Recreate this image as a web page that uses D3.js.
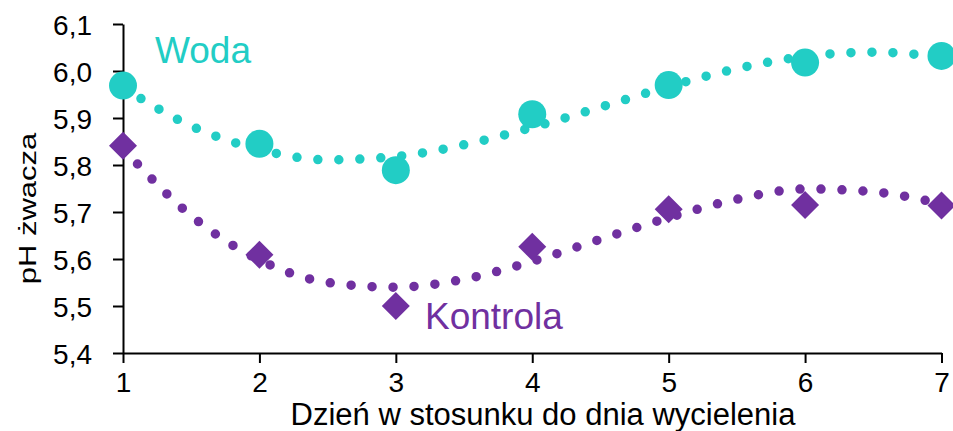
<!DOCTYPE html>
<html>
<head>
<meta charset="utf-8">
<script src="https://cdn.jsdelivr.net/npm/d3@7"></script>
<style>
  html, body { margin: 0; padding: 0; background: #fff; }
  svg { display: block; font-family: "Liberation Sans", Arial, sans-serif; }
</style>
</head>
<body>
<div id="chart"></div>
<script>
// ---- data ----
const days = [1, 2, 3, 4, 5, 6, 7];
const wodaValues = [5.969, 5.845, 5.789, 5.908, 5.970, 6.018, 6.032];
const kontrolaValues = [5.841, 5.609, 5.500, 5.626, 5.706, 5.715, 5.714];
// trend lines (at half-day steps)
const trendDays = [1, 1.5, 2, 2.5, 3, 3.5, 4, 4.5, 5, 5.5, 6, 6.5, 7];
const wodaTrend = [5.965, 5.883, 5.833, 5.811, 5.818, 5.843, 5.880, 5.923, 5.967, 6.005, 6.031, 6.040, 6.030];
const kontrolaTrend = [5.835, 5.692, 5.598, 5.550, 5.540, 5.557, 5.595, 5.642, 5.688, 5.727, 5.749, 5.743, 5.717];
const yTicks = [5.4, 5.5, 5.6, 5.7, 5.8, 5.9, 6.0, 6.1];
const seriesNames = ["Woda", "Kontrola"];
const xTitle = "Dzień w stosunku do dnia wycielenia";
const yTitle = "pH żwacza";

// ---- setup ----
const W = 953, H = 431;
const colWoda = "#22CDC5", colKontrola = "#7030A0";
const svg = d3.select("#chart").append("svg").attr("width", W).attr("height", H);

const x = d3.scaleLinear().domain([1, 7]).range([123, 941.5]);
const y = d3.scaleLinear().domain([5.4, 6.1]).range([353, 24]);
const fmt = d => d.toFixed(1).replace(".", ",");

// axes
const yAxis = svg.append("g").attr("transform", `translate(${x(1)},0)`)
  .call(d3.axisLeft(y).tickValues(yTicks).tickFormat(fmt).tickSize(10).tickSizeOuter(0).tickPadding(21));
const xAxis = svg.append("g").attr("transform", `translate(0,${y(5.4)})`)
  .call(d3.axisBottom(x).tickValues(days).tickFormat(d3.format("d")).tickSize(10).tickSizeOuter(0).tickPadding(9));
[yAxis, xAxis].forEach(g => {
  g.selectAll("path, line").attr("stroke", "#000").attr("stroke-width", 2);
  g.selectAll("text").attr("fill", "#000").style("font-size", "28px")
    .style("font-family", '"Liberation Sans", Arial, sans-serif');
});
yAxis.selectAll("text").attr("dy", "0.36em");
xAxis.selectAll("text").attr("dy", "0.72em");

// trend lines (dotted)
const line = d3.line().x(d => x(d[0])).y(d => y(d[1])).curve(d3.curveMonotoneX);
[[wodaTrend, colWoda], [kontrolaTrend, colKontrola]].forEach(([vals, col]) => {
  svg.append("path")
    .datum(trendDays.map((d, i) => [d, vals[i]]))
    .attr("d", line)
    .attr("fill", "none")
    .attr("stroke", col)
    .attr("stroke-width", 9.5)
    .attr("stroke-linecap", "round")
    .attr("stroke-dasharray", "0 21");
});

// markers
svg.append("g").selectAll("circle")
  .data(days.map((d, i) => [d, wodaValues[i]]))
  .join("circle")
  .attr("cx", d => x(d[0])).attr("cy", d => y(d[1]))
  .attr("r", 14).attr("fill", colWoda);

const diamond = d3.symbol().type(d3.symbolSquare).size(392);
svg.append("g").selectAll("path")
  .data(days.map((d, i) => [d, kontrolaValues[i]]))
  .join("path")
  .attr("d", diamond)
  .attr("transform", d => `translate(${x(d[0])},${y(d[1])}) rotate(45)`)
  .attr("fill", colKontrola);

// series labels
svg.append("text").attr("x", 155).attr("y", 62.5).text(seriesNames[0])
  .attr("fill", colWoda).style("font-size", "37px");
svg.append("text").attr("x", 425).attr("y", 329).text(seriesNames[1])
  .attr("fill", colKontrola).style("font-size", "37px");

// axis titles
svg.append("text").attr("x", 543).attr("y", 424.5).attr("text-anchor", "middle")
  .text(xTitle).attr("fill", "#000").style("font-size", "31px");
svg.append("text").attr("text-anchor", "middle")
  .attr("transform", "translate(36,208.5) rotate(-90) scale(1,0.78)")
  .text(yTitle).attr("fill", "#000").style("font-size", "31px");
</script>
</body>
</html>
